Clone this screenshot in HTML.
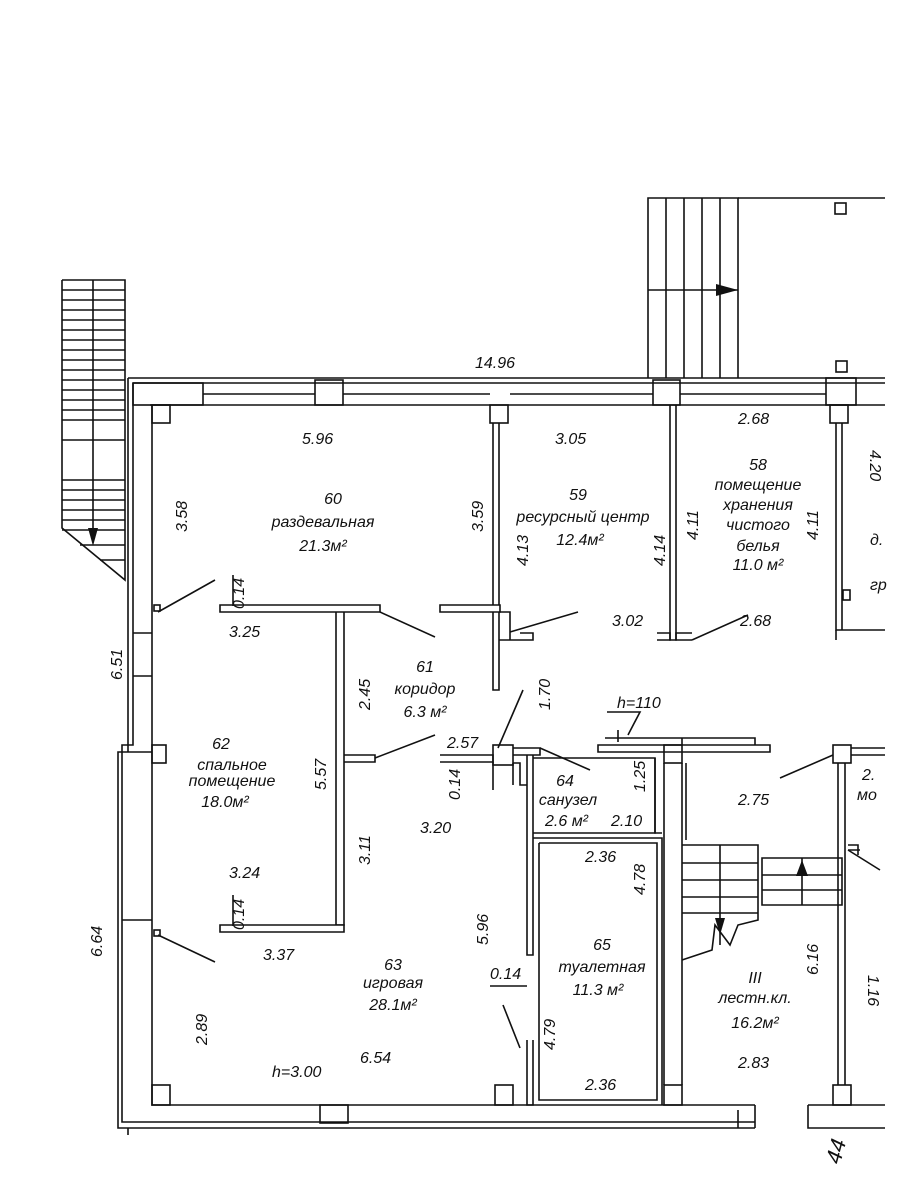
<!DOCTYPE html>
<html><head><meta charset="utf-8"><style>
html,body{margin:0;padding:0;background:#fff}
svg{display:block}
text{font-family:"Liberation Sans",sans-serif;font-style:italic;font-size:16px;fill:#111}
</style></head><body>
<svg width="912" height="1200" viewBox="0 0 912 1200" xmlns="http://www.w3.org/2000/svg">
<g fill="none" stroke="#111" stroke-width="1.6">
<path d="M648 378V198H738V378M666 198V378M684 198V378M702 198V378M720 198V378M648 290H738"/>
<path d="M738 198H885"/>
<rect x="835" y="203" width="11" height="11"/>
<rect x="836" y="361" width="11" height="11"/>
<path d="M62 280H125V580L62 528V280M93 280V528"/>
<path d="M62 290H125M62 300H125M62 310H125M62 320H125M62 330H125M62 340H125M62 350H125M62 360H125M62 370H125M62 380H125M62 390H125M62 400H125M62 410H125M62 420H125M62 440H125M62 480H125M62 490H125M62 500H125M62 510H125M62 520H125M62 530H125M80 545H125M100 560H125"/>
<path d="M128 378H885M133 383H885M150 405H885M203 394H315M343 394H490M510 394H653M680 394H826"/>
<rect x="133" y="383" width="70" height="22"/>
<rect x="315" y="380" width="28" height="25"/>
<rect x="653" y="380" width="27" height="25"/>
<rect x="826" y="378" width="30" height="27"/>
<path d="M128 378V752H118V1128H128V1135M133 383V745H122V1122H755M152 405V1105H755M128 1128H755M118 752H152M122 920H152M133 633H152M133 676H152M122 752V920"/>
<rect x="152" y="405" width="18" height="18"/>
<rect x="490" y="405" width="18" height="18"/>
<rect x="830" y="405" width="18" height="18"/>
<rect x="152" y="745" width="14" height="18"/>
<rect x="152" y="1085" width="18" height="20"/>
<rect x="493" y="745" width="20" height="20"/>
<rect x="664" y="745" width="18" height="18"/>
<rect x="833" y="745" width="18" height="18"/>
<rect x="664" y="1085" width="18" height="20"/>
<rect x="833" y="1085" width="18" height="20"/>
<rect x="320" y="1105" width="28" height="18"/>
<rect x="495" y="1085" width="18" height="20"/>
<path d="M755 1105V1128M808 1105V1128H885M815 1105H885M738 1110V1128M808 1105H855"/>
<path d="M493 423V690H499V423M676 405V640H670V405M836 423V630H842V423M842 630H885"/>
<path d="M220 605H380V612H220Z" fill="#fff"/>
<path d="M440 605H500V612H440Z" fill="#fff"/>
<path d="M499 612H510V640H499M506 640H520M510 612V640M520 633H533V640H499"/>
<path d="M657 633H670V640H657M692 633H676V640H692"/>
<path d="M836 630V640"/>
<path d="M336 612V925H344V612"/>
<path d="M344 755H375V762H344"/>
<path d="M220 925H344V932H220Z" fill="#fff"/>
<path d="M440 755H493V762H440"/>
<path d="M513 748H540V755H513M527 755V955H533V755M533 758H655V833H533M533 838H662V1105M539 843H657V1100H539V843M527 1040V1105H533V1040"/>
<path d="M513 763H520V785H527M513 763V785"/>
<path d="M655 758V833H662M664 763V1085M682 763V1085"/>
<path d="M598 745H770V752H598ZM605 738H682V745M618 730V742M680 738H755V745"/>
<path d="M686 763V840"/>
<path d="M682 845H758V920L738 925L730 945L715 925L712 950L682 960M682 863H758M682 880H758M682 897H758M682 913H758M720 845V945"/>
<path d="M762 858H842V905H762ZM762 875H842M762 890H842M802 858V905"/>
<path d="M838 763V1085M845 763V1085M848 850L860 850M848 845H858V855"/>
<path d="M851 748H885M851 755H885"/>
<path d="M158 612L215 580M158 935L215 962M380 612L435 637M375 758L435 735M498 748L523 690M540 748L590 770M520 1048L503 1005M510 632L578 612M692 640L748 615M833 755L780 778M848 850L880 870"/>
<rect x="154" y="605" width="6" height="6"/>
<rect x="154" y="930" width="6" height="6"/>
<rect x="843" y="590" width="7" height="10"/>
<path d="M233 575V606M233 895V926M493 762V790M490 986H527M607 712H640L628 735"/>
</g>
<polygon points="716,284 716,296 738,290" fill="#111"/>
<polygon points="88,528 98,528 93,546" fill="#111"/>
<polygon points="796,876 808,876 802,860" fill="#111"/>
<polygon points="715,918 725,918 720,935" fill="#111"/>
<text x="475" y="368">14.96</text>
<text x="302" y="444">5.96</text>
<text x="555" y="444">3.05</text>
<text x="738" y="424">2.68</text>
<text x="333" y="504" text-anchor="middle">60</text>
<text x="323" y="527" text-anchor="middle">раздевальная</text>
<text x="323" y="551" text-anchor="middle">21.3м²</text>
<text x="578" y="500" text-anchor="middle">59</text>
<text x="583" y="522" text-anchor="middle">ресурсный центр</text>
<text x="580" y="545" text-anchor="middle">12.4м²</text>
<text x="758" y="470" text-anchor="middle">58</text>
<text x="758" y="490" text-anchor="middle">помещение</text>
<text x="758" y="510" text-anchor="middle">хранения</text>
<text x="758" y="530" text-anchor="middle">чистого</text>
<text x="758" y="551" text-anchor="middle">белья</text>
<text x="758" y="570" text-anchor="middle">11.0 м²</text>
<text x="870" y="545">д.</text>
<text x="870" y="590">гр</text>
<text x="229" y="637">3.25</text>
<text x="612" y="626">3.02</text>
<text x="740" y="626">2.68</text>
<text x="425" y="672" text-anchor="middle">61</text>
<text x="425" y="694" text-anchor="middle">коридор</text>
<text x="425" y="717" text-anchor="middle">6.3 м²</text>
<text x="447" y="748">2.57</text>
<text x="617" y="708">h=110</text>
<text x="221" y="749" text-anchor="middle">62</text>
<text x="232" y="770" text-anchor="middle">спальное</text>
<text x="232" y="786" text-anchor="middle">помещение</text>
<text x="225" y="807" text-anchor="middle">18.0м²</text>
<text x="565" y="786" text-anchor="middle">64</text>
<text x="568" y="805" text-anchor="middle">санузел</text>
<text x="545" y="826">2.6 м²</text>
<text x="611" y="826">2.10</text>
<text x="738" y="805">2.75</text>
<text x="862" y="780">2.</text>
<text x="857" y="800">мо</text>
<text x="420" y="833">3.20</text>
<text x="585" y="862">2.36</text>
<text x="229" y="878">3.24</text>
<text x="263" y="960">3.37</text>
<text x="393" y="970" text-anchor="middle">63</text>
<text x="393" y="988" text-anchor="middle">игровая</text>
<text x="393" y="1010" text-anchor="middle">28.1м²</text>
<text x="602" y="950" text-anchor="middle">65</text>
<text x="602" y="972" text-anchor="middle">туалетная</text>
<text x="598" y="995" text-anchor="middle">11.3 м²</text>
<text x="490" y="979">0.14</text>
<text x="755" y="983" text-anchor="middle">III</text>
<text x="755" y="1003" text-anchor="middle">лестн.кл.</text>
<text x="755" y="1028" text-anchor="middle">16.2м²</text>
<text x="360" y="1063">6.54</text>
<text x="272" y="1077">h=3.00</text>
<text x="738" y="1068">2.83</text>
<text x="585" y="1090">2.36</text>
<g>
<text transform="translate(187,532) rotate(-90)">3.58</text>
<text transform="translate(483,532) rotate(-90)">3.59</text>
<text transform="translate(528,566) rotate(-90)">4.13</text>
<text transform="translate(665,566) rotate(-90)">4.14</text>
<text transform="translate(698,540) rotate(-90)">4.11</text>
<text transform="translate(818,540) rotate(-90)">4.11</text>
<text transform="translate(870,450) rotate(90)">4.20</text>
<text transform="translate(244,609) rotate(-90)">0.14</text>
<text transform="translate(122,680) rotate(-90)">6.51</text>
<text transform="translate(370,710) rotate(-90)">2.45</text>
<text transform="translate(550,710) rotate(-90)">1.70</text>
<text transform="translate(460,800) rotate(-90)">0.14</text>
<text transform="translate(645,792) rotate(-90)">1.25</text>
<text transform="translate(326,790) rotate(-90)">5.57</text>
<text transform="translate(370,865) rotate(-90)">3.11</text>
<text transform="translate(244,930) rotate(-90)">0.14</text>
<text transform="translate(645,895) rotate(-90)">4.78</text>
<text transform="translate(488,945) rotate(-90)">5.96</text>
<text transform="translate(818,975) rotate(-90)">6.16</text>
<text transform="translate(868,975) rotate(90)">1.16</text>
<text transform="translate(102,957) rotate(-90)">6.64</text>
<text transform="translate(207,1045) rotate(-90)">2.89</text>
<text transform="translate(555,1050) rotate(-90)">4.79</text>
<text transform="translate(840,1165) rotate(-75)" style="font-size:22px">44</text>
</g>
</svg>
</body></html>
